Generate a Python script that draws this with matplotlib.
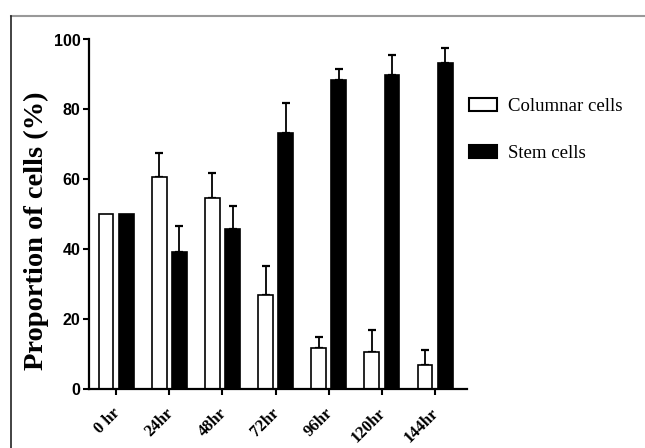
import matplotlib
matplotlib.use("Agg")
import matplotlib.pyplot as plt
import matplotlib.transforms as mtransforms
from matplotlib.patches import Patch
import numpy as np

categories = ["0 hr", "24hr", "48hr", "72hr", "96hr", "120hr", "144hr"]
columnar = [50.0, 60.6, 54.7, 26.8, 11.5, 10.4, 6.6]
columnar_top = [50.0, 67.4, 61.7, 35.2, 14.7, 16.7, 11.0]
stem = [50.0, 39.2, 45.7, 73.1, 88.4, 89.8, 93.4]
stem_top = [50.0, 46.5, 52.4, 81.7, 91.6, 95.6, 97.6]
yticks = [0, 20, 40, 60, 80, 100]

fig = plt.figure(figsize=(6.45, 4.48), dpi=100)
W, H = 645, 448
ax = fig.add_axes([89 / W, 1 - 388.5 / H, (467 - 89) / W, (388.5 - 39.5) / H])

x = np.arange(len(categories))
bw = 0.28
off = 0.19
ax.bar(x - off, columnar, bw, color="white", edgecolor="black", linewidth=1.2, zorder=2)
ax.bar(x + off, stem, bw, color="black", edgecolor="black", linewidth=1.2, zorder=2)

col_err = np.array(columnar_top) - np.array(columnar)
stem_err = np.array(stem_top) - np.array(stem)
for xs, vals, errs in [(x - off, columnar, col_err), (x + off, stem, stem_err)]:
    for xi, v, e in zip(xs, vals, errs):
        if e > 0:
            ax.errorbar([xi], [v], yerr=[[0], [e]], fmt="none", ecolor="black",
                        elinewidth=1.3, capsize=2.6, capthick=1.6, zorder=1)

ax.set_xlim(-0.51, 6.60)
ax.set_ylim(0, 100)
ax.set_yticks(yticks)
ax.set_yticklabels([str(t) for t in yticks], fontfamily="Liberation Sans",
                   fontweight="bold", fontsize=11.5)
ax.set_xticks(x)
ax.set_xticklabels([])

base = mtransforms.blended_transform_factory(ax.transData, ax.transAxes)
shift = mtransforms.ScaledTranslation(7 / 100, -17 / 100, fig.dpi_scale_trans)
for xi, lab in zip(x, categories):
    ax.text(xi, 0, lab, transform=base + shift, rotation=45, ha="right", va="top",
            fontfamily="Liberation Serif", fontweight="bold", fontsize=12)

for s in ["top", "right"]:
    ax.spines[s].set_visible(False)
for s in ["left", "bottom"]:
    ax.spines[s].set_linewidth(1.6)
ax.tick_params(axis="both", width=1.5, length=4.5, pad=1.5)

fig.text(36.5 / W, 1 - 231 / H, "Proportion of cells (%)", rotation=90,
         ha="center", va="center", fontfamily="Liberation Serif",
         fontweight="bold", fontsize=20.5)

handles = [Patch(facecolor="white", edgecolor="black", linewidth=1.5, label="Columnar cells"),
           Patch(facecolor="black", edgecolor="black", linewidth=1.5, label="Stem cells")]
leg = fig.legend(handles=handles, loc="upper left", bbox_to_anchor=(463 / W, 1 - 92 / H),
                 frameon=False, prop={"family": "Liberation Serif", "size": 13.5},
                 handlelength=1.5, handleheight=0.7, handletextpad=0.6, labelspacing=1.6,
                 borderaxespad=0, borderpad=0.3)

# outer frame lines (top and left)
fig.add_artist(plt.Line2D([10.5 / W, 1], [1 - 16 / H, 1 - 16 / H], color="#999999",
                          linewidth=1.5, transform=fig.transFigure))
fig.add_artist(plt.Line2D([10.5 / W, 10.5 / W], [1 - 16 / H, 0], color="#222222",
                          linewidth=1.2, transform=fig.transFigure))

fig.savefig("out.png", dpi=100)
